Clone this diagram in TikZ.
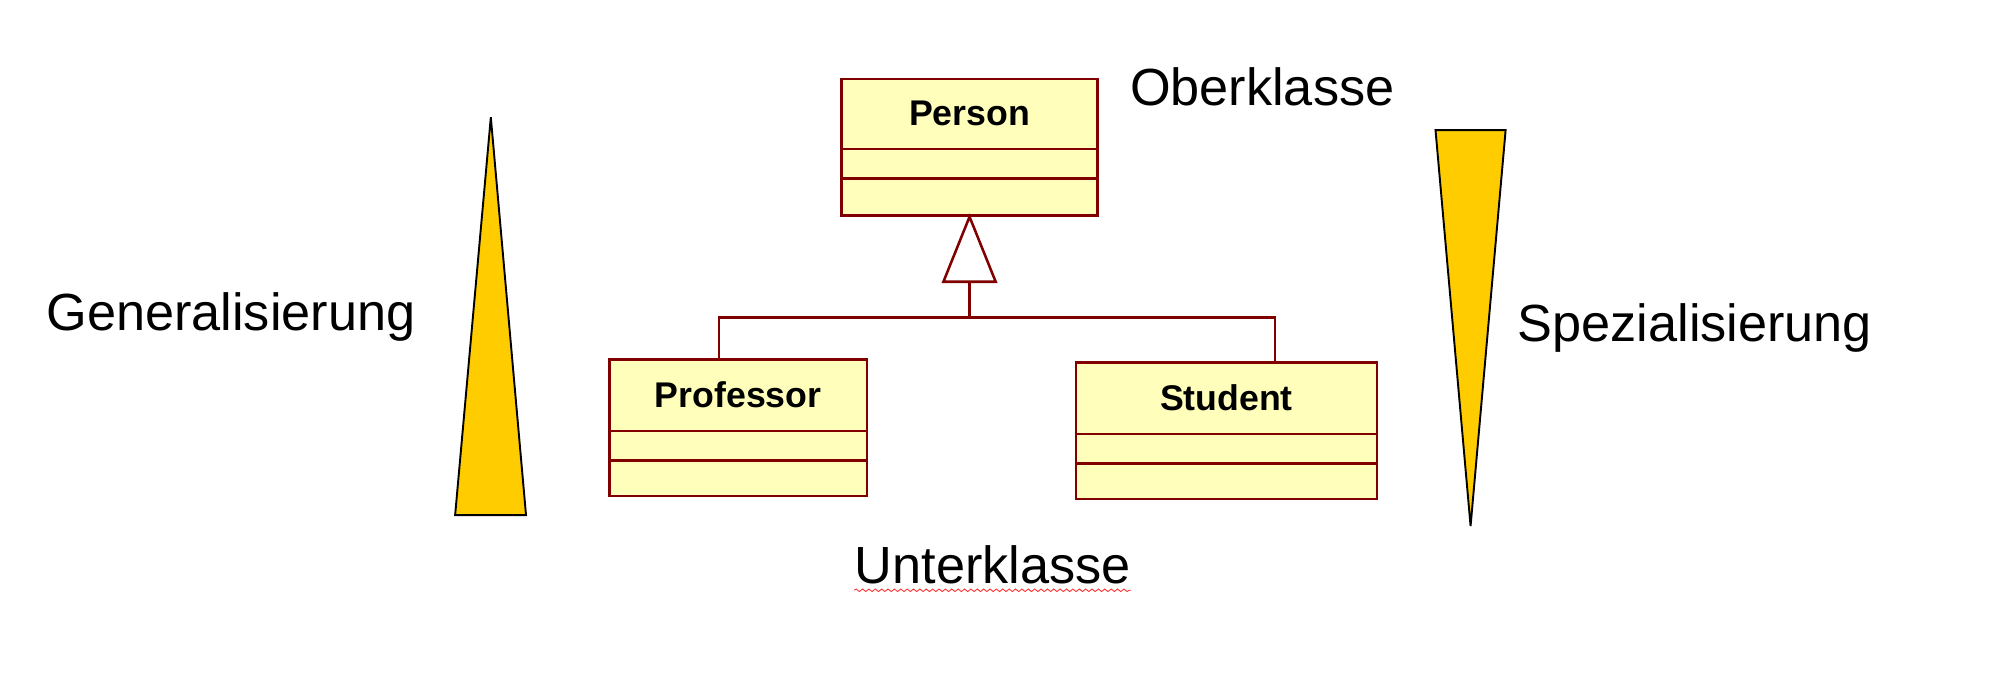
\documentclass[tikz,border=0pt]{standalone}
\usepackage{fontspec}
\setmainfont{Liberation Sans}
\usetikzlibrary{calc,decorations.pathmorphing}
\definecolor{umlred}{HTML}{800000}
\definecolor{umlfill}{HTML}{FFFFBB}
\definecolor{wedgegold}{HTML}{FFCC00}
\begin{document}
\begin{tikzpicture}[x=0.5pt,y=-0.5pt,
  classbox/.style={draw=umlred, fill=umlfill, line width=1pt, inner sep=0pt,
    minimum width=#1, minimum height=53.5pt},
  divider/.style={draw=umlred, line width=1pt},
  umlline/.style={draw=umlred, line width=1pt},
  classname/.style={font=\fontsize{14pt}{16pt}\selectfont\bfseries, inner sep=0pt},
  bigtext/.style={font=\fontsize{20.5pt}{24pt}\selectfont, inner sep=0pt, anchor=base west},
  wedge/.style={draw=black, line width=0.75pt, fill=wedgegold, line join=miter}
]
\useasboundingbox (0,0) rectangle (1568,548.3);

% wedges
\draw[wedge] (385,92) -- (412.6,404) -- (357,404) -- cycle;
\draw[wedge] (1126,102) -- (1181,102) -- (1153.5,412.6) -- cycle;

% classes
\node[classbox=100.5pt] (person) at (760.5,115.5) {};
\draw[divider] ($(person.north west)+(0,56)$) -- ($(person.north east)+(0,56)$);
\draw[divider] ($(person.north west)+(0,79)$) -- ($(person.north east)+(0,79)$);
\node[classname] (personname) at ($(person.north)+(0,28)$) {Person};

\node[classbox=101pt] (professor) at (579,335.5) {};
\draw[divider] ($(professor.north west)+(0,57)$) -- ($(professor.north east)+(0,57)$);
\draw[divider] ($(professor.north west)+(0,80)$) -- ($(professor.north east)+(0,80)$);
\node[classname] (professorname) at ($(professor.north)+(0,28.5)$) {Professor};

\node[classbox=118pt] (student) at (962,338) {};
\draw[divider] ($(student.north west)+(0,57)$) -- ($(student.north east)+(0,57)$);
\draw[divider] ($(student.north west)+(0,80)$) -- ($(student.north east)+(0,80)$);
\node[classname] (studentname) at ($(student.north)+(0,28.5)$) {Student};

% generalization
\coordinate (tribase) at ($(person.south)+(0,51)$);
\coordinate (hub) at ($(person.south)+(0,79)$);
\coordinate (proftop) at ($(professor.north west)+(87,0)$);
\coordinate (studtop) at ($(student.north west)+(157,0)$);
\draw[umlline] (tribase) -- (hub);
\draw[umlline] (proftop) |- (hub) -| (studtop);
\draw[umlline, fill=white, line join=miter] (person.south) -- ($(tribase)+(20.5,0)$) -- ($(tribase)+(-20.5,0)$) -- cycle;

% labels
\node[bigtext] (ober) at (886,83) {Oberklasse};
\node[bigtext] (gen) at (36,259) {Generalisierung};
\node[bigtext] (spez) at (1190,268) {Spezialisierung};
\node[bigtext] (unter) at (670,458) {Unterklasse};
\draw[red!80, line width=0.35pt, decorate, decoration={snake, amplitude=0.5pt, segment length=2.5pt}]
  ($(unter.base west)+(0,5)$) -- ($(unter.base east)+(0,5)$);
\end{tikzpicture}
\end{document}
